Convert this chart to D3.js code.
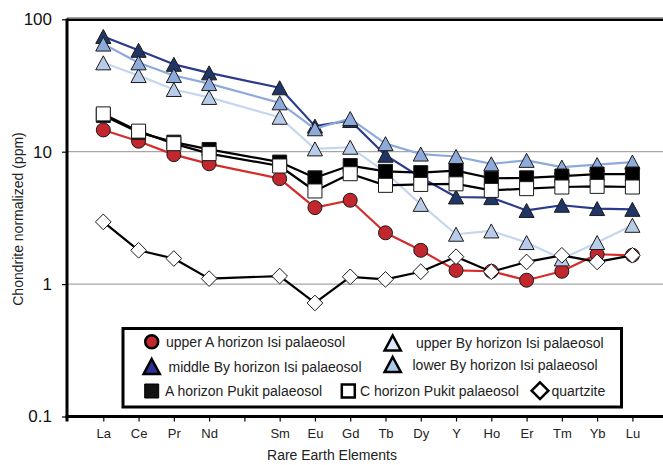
<!DOCTYPE html>
<html><head><meta charset="utf-8">
<script src="https://cdn.jsdelivr.net/npm/d3@7"></script>
<style>
body{margin:0;background:#fff}
svg{display:block;font-family:"Liberation Sans",Arial,sans-serif}
</style>
</head><body>
<svg id="chart" width="663" height="465"></svg>
<script>
// ---------- data ----------
const elements   = ["La","Ce","Pr","Nd","Pm","Sm","Eu","Gd","Tb","Dy","Y","Ho","Er","Tm","Yb","Lu"];
const tickLabels = ["La","Ce","Pr","Nd","","Sm","Eu","Gd","Tb","Dy","Y","Ho","Er","Tm","Yb","Lu"];
const yTicks = [0.1, 1, 10, 100];

const upperAIsi   = [14.6, 12.0, 9.5, 8.1, null, 6.26, 3.78, 4.3, 2.44, 1.80, 1.27, 1.25, 1.07, 1.25, 1.68, 1.65];
const upperByIsi  = [46.9, 37.6, 29.5, 25.7, null, 18.2, 10.5, 10.8, 7.0, 4.0, 2.38, 2.52, 2.06, 1.55, 2.06, 2.78];
const middleByIsi = [74.2, 58.3, 45.7, 39.4, null, 30.4, 15.6, 17.2, 9.4, 6.4, 4.55, 4.5, 3.6, 3.94, 3.72, 3.67];
const lowerByIsi  = [65.0, 46.9, 37.6, 32.7, null, 23.4, 14.9, 17.8, 11.5, 9.6, 9.2, 8.1, 8.6, 7.65, 8.0, 8.35];
const aPukit      = [18.8, 14.0, 11.8, 10.4, null, 8.35, 6.35, 7.86, 7.1, 6.95, 7.2, 6.3, 6.35, 6.55, 6.78, 6.78];
const cPukit      = [19.3, 14.3, 11.5, 9.67, null, 7.8, 5.05, 6.82, 5.57, 5.66, 5.72, 5.1, 5.26, 5.41, 5.47, 5.41];
const quartzite   = [2.95, 1.80, 1.56, 1.10, null, 1.15, 0.72, 1.135, 1.085, 1.24, 1.61, 1.24, 1.47, 1.65, 1.47, 1.65];

const seriesNames = ["upper A horizon Isi palaeosol","upper By horizon Isi palaeosol","middle By horizon Isi palaeosol",
  "lower By horizon Isi palaeosol","A horizon Pukit palaeosol","C horizon Pukit palaeosol","quartzite"];

// ---------- styles ----------
const styles = [
  {shape:"circle",   fill:"#c1272d", line:"#d52b2b", lfill:"#c1272d"},
  {shape:"triangle", fill:"#b8cce9", line:"#c5d6ef", lfill:"#dce9f7"},
  {shape:"triangle", fill:"#1f3666", line:"#2c3a8c", lfill:"#2e3192"},
  {shape:"triangle", fill:"#8eaadb", line:"#8eaadb", lfill:"#a9cbea"},
  {shape:"square",   fill:"#000000", line:"#000000", lfill:"#111111"},
  {shape:"square",   fill:"#ffffff", line:"#000000", lfill:"#ffffff"},
  {shape:"diamond",  fill:"#ffffff", line:"#000000", lfill:"#ffffff"}
];
const seriesValues = [upperAIsi, upperByIsi, middleByIsi, lowerByIsi, aPukit, cPukit, quartzite];
const series = seriesNames.map((n,i)=>({name:n, values:seriesValues[i], ...styles[i]}));

// ---------- scales ----------
const svg = d3.select("#chart");
const pLeft = 67, pRight = 663, pTop = 19.3, pBottom = 416.5;
const x = d3.scalePoint().domain(elements).range([103.3, 632.4]);
const y = d3.scaleLog().domain([0.1, 100]).range([pBottom, pTop]);

function markerPath(shape, s){
  if(shape==="circle"){ const r=s/2; return `M${r},0A${r},${r} 0 1,1 ${-r},0A${r},${r} 0 1,1 ${r},0Z`; }
  if(shape==="square"){ const h=s/2; return `M${-h},${-h}H${h}V${h}H${-h}Z`; }
  if(shape==="triangle"){ const w=s*1.08/2, h=s/2; return `M0,${-h}L${w},${h}L${-w},${h}Z`; }
  if(shape==="diamond"){ const h=s*0.56; return `M0,${-h}L${h},0L0,${h}L${-h},0Z`; }
}

// gridlines
svg.append("g").selectAll("line").data([1,10,100]).join("line")
  .attr("x1", pLeft).attr("x2", pRight).attr("y1", d=>y(d)-(d===100?1.6:0)).attr("y2", d=>y(d)-(d===100?1.6:0))
  .attr("stroke", "#a6a6a6").attr("stroke-width", 1.2);
// top border
svg.append("line").attr("x1", pLeft).attr("x2", pRight).attr("y1", pTop+0.5).attr("y2", pTop+0.5)
  .attr("stroke","#000").attr("stroke-width",2.5);

// y axis
const yAxis = svg.append("g").attr("transform", `translate(${pLeft},0)`)
  .call(d3.axisLeft(y).tickValues(yTicks).tickFormat(d3.format("~g")).tickSize(5).tickPadding(10));
yAxis.select(".domain").remove();
yAxis.selectAll(".tick line").attr("stroke","#000").attr("stroke-width",1.2);
yAxis.selectAll(".tick text").attr("font-size",17).attr("fill","#111").attr("font-family","Liberation Sans, Arial, sans-serif");

// x axis
const xAxis = svg.append("g").attr("transform", `translate(0,${pBottom})`)
  .call(d3.axisBottom(x).tickFormat((d,i)=>tickLabels[i]).tickSize(5));
xAxis.select(".domain").remove();
xAxis.selectAll(".tick line").attr("stroke","#000").attr("stroke-width",1.2);
xAxis.selectAll(".tick text").attr("font-size",13).attr("fill","#222").attr("y",21.5).attr("dy",0)
  .attr("font-family","Liberation Sans, Arial, sans-serif");

// axis lines
svg.append("line").attr("x1", pLeft).attr("x2", pLeft).attr("y1", pTop-0.7).attr("y2", pBottom+5)
  .attr("stroke","#000").attr("stroke-width",3);
svg.append("line").attr("x1", pLeft-1.5).attr("x2", pRight).attr("y1", pBottom).attr("y2", pBottom)
  .attr("stroke","#000").attr("stroke-width",3);

// axis titles
svg.append("text").attr("x", 332).attr("y", 460).attr("text-anchor","middle")
  .attr("font-size",14).attr("fill","#222").text("Rare Earth Elements");
svg.append("text").attr("transform","translate(22.5,219) rotate(-90)").attr("text-anchor","middle")
  .attr("font-size",14).attr("fill","#222").text("Chondrite normalized (ppm)");

// series
const line = d3.line().x(d=>x(d.e)).y(d=>y(d.v));
series.forEach(s=>{
  const pts = elements.map((e,i)=>({e, v:s.values[i]})).filter(d=>d.v!=null);
  const g = svg.append("g");
  g.append("path").datum(pts).attr("d", line).attr("fill","none")
    .attr("stroke", s.line).attr("stroke-width", 2.2).attr("stroke-linejoin","round");
  g.selectAll("path.m").data(pts).join("path").attr("class","m")
    .attr("transform", d=>`translate(${x(d.e)},${y(d.v)})`)
    .attr("d", markerPath(s.shape, 14))
    .attr("fill", s.fill).attr("stroke", "#1a1a1a").attr("stroke-width", 1);
});

// legend
const lg = svg.append("g");
lg.append("rect").attr("x",123).attr("y",328.5).attr("width",498.5).attr("height",78.5)
  .attr("fill","#fff").attr("stroke","#000").attr("stroke-width",3);
const legendPos = [
  {mx:151.7, my:341.7, tx:166, ty:346.5, ms:13},
  {mx:392.7, my:343,   tx:416, ty:347.5, ms:15},
  {mx:151.7, my:366.5, tx:168.5, ty:371.5, ms:15},
  {mx:392.7, my:364.5, tx:412.5, ty:369.5, ms:15},
  {mx:151.7, my:391,   tx:165, ty:396, ms:14},
  {mx:348.3, my:391,   tx:360, ty:396, ms:13},
  {mx:540,   my:390.7, tx:551.5, ty:395.5, ms:15}
];
series.forEach((s,i)=>{
  const p = legendPos[i];
  lg.append("path").attr("transform",`translate(${p.mx},${p.my})`)
    .attr("d", markerPath(s.shape, p.ms)).attr("fill", s.lfill)
    .attr("stroke","#000").attr("stroke-width", (s.shape==="square" && s.fill==="#000000") ? 1 : 2.5)
    .attr("stroke-linejoin","miter");
  lg.append("text").attr("x",p.tx).attr("y",p.ty).attr("font-size",14).attr("fill","#222").text(s.name);
});
</script>
</body></html>
